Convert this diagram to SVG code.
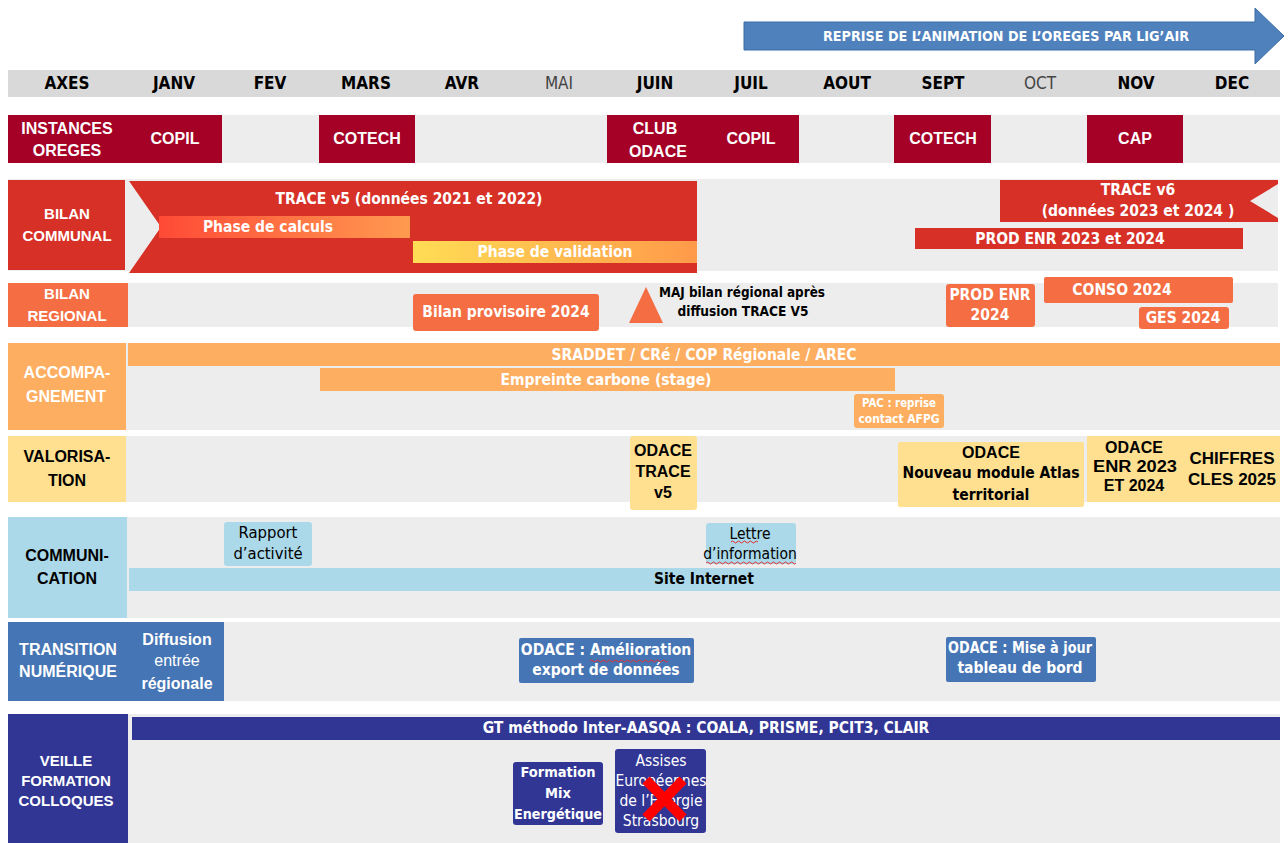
<svg xmlns="http://www.w3.org/2000/svg" width="1288" height="843" viewBox="0 0 1288 843">
<style>
.bg{fill:#ededed}
.h{font-family:"Liberation Sans",Arial,sans-serif;font-weight:bold;font-size:16px;text-anchor:middle;dominant-baseline:central}
.c{font-family:"DejaVu Sans Condensed","Liberation Sans Narrow","Roboto Condensed",Roboto,sans-serif;font-stretch:condensed;font-weight:bold;font-size:15.5px;text-anchor:middle;dominant-baseline:central}
.m{font-size:17px}
.s15{font-size:15px}
.n{font-weight:normal}
.w{fill:#fff}.k{fill:#000}
.red1{fill:#a50026}.red2{fill:#d73027}.or{fill:#f46d43}.lo{fill:#fdae61}.ye{fill:#fee090}.lb{fill:#abd9e9}.bl{fill:#4575b4}.nv{fill:#313695}
.wavy{fill:none;stroke:#e03030;stroke-width:1}
</style>
<defs>
<linearGradient id="gCalc" x1="0" y1="0" x2="1" y2="0"><stop offset="0" stop-color="#ff4a36"/><stop offset="1" stop-color="#ff9a50"/></linearGradient>
<linearGradient id="gVal" x1="0" y1="0" x2="1" y2="0"><stop offset="0" stop-color="#ffdd55"/><stop offset="1" stop-color="#ff9a4a"/></linearGradient>
</defs>

<g id="header-arrow">
<polygon points="744,22 1255,22 1255,8 1284,36 1255,64 1255,50 744,50" fill="#4f81bd" stroke="#3b6ca6" stroke-width="1"/>
<text class="c w" x="1006" y="36" style="font-size:13.5px" textLength="366" lengthAdjust="spacingAndGlyphs">REPRISE DE L’ANIMATION DE L’OREGES PAR LIG’AIR</text>
</g>

<g id="months">
<rect x="8" y="70" width="1272" height="27" fill="#d9d9d9"/>
<text class="c m k" x="67" y="83">AXES</text>
<text class="c m k" x="174" y="83">JANV</text>
<text class="c m k" x="270" y="83">FEV</text>
<text class="c m k" x="366" y="83">MARS</text>
<text class="c m k" x="462" y="83">AVR</text>
<text class="c m n" x="559" y="83" fill="#444">MAI</text>
<text class="c m k" x="655" y="83">JUIN</text>
<text class="c m k" x="751" y="83">JUIL</text>
<text class="c m k" x="847" y="83">AOUT</text>
<text class="c m k" x="943" y="83">SEPT</text>
<text class="c m n" x="1040" y="83" fill="#444">OCT</text>
<text class="c m k" x="1136" y="83">NOV</text>
<text class="c m k" x="1232" y="83">DEC</text>
</g>

<g id="row-instances">
<rect class="bg" x="8" y="115" width="1272" height="48"/>
<rect class="red1" x="8" y="115" width="214" height="48"/>
<text class="h w" x="67" y="128">INSTANCES</text>
<text class="h w" x="67" y="150">OREGES</text>
<text class="h w" x="175" y="138">COPIL</text>
<rect class="red1" x="319" y="115" width="96" height="48"/>
<text class="h w" x="367" y="138">COTECH</text>
<rect class="red1" x="607" y="115" width="192" height="48"/>
<text class="h w" x="655" y="128">CLUB</text>
<text class="h w" x="658" y="151">ODACE</text>
<text class="h w" x="751" y="138">COPIL</text>
<rect class="red1" x="894" y="115" width="97" height="48"/>
<text class="h w" x="943" y="138">COTECH</text>
<rect class="red1" x="1087" y="115" width="96" height="48"/>
<text class="h w" x="1135" y="138">CAP</text>
</g>

<g id="row-bilan-communal">
<rect class="bg" x="8" y="179" width="1270" height="92"/>
<rect class="red2" x="8" y="180" width="117" height="90"/>
<text class="h w s15" x="67" y="213">BILAN</text>
<text class="h w s15" x="67" y="235">COMMUNAL</text>
</g>
<g id="trace-v5">
<polygon class="red2" points="129,181 697,181 697,273 129,273 161,227"/>
<text class="c w" x="409" y="199">TRACE v5 (données 2021 et 2022)</text>
<rect x="159" y="216" width="251" height="22" fill="url(#gCalc)"/>
<text class="c w" x="268" y="227">Phase de calculs</text>
<rect x="413" y="241" width="284" height="22" fill="url(#gVal)"/>
<text class="c w" x="555" y="252">Phase de validation</text>
</g>
<g id="trace-v6">
<polygon class="red2" points="1000,180 1278,180 1278,184 1250,201 1278,218 1278,222 1000,222"/>
<text class="c w" x="1138" y="190">TRACE v6</text>
<text class="c w" x="1138" y="211">(données 2023 et 2024 )</text>
</g>
<g id="prod-enr-2023">
<rect class="red2" x="915" y="228" width="328" height="21"/>
<text class="c w" x="1070" y="239">PROD ENR 2023 et 2024</text>
</g>

<g id="row-bilan-regional">
<rect class="bg" x="8" y="283" width="1270" height="44"/>
<rect class="or" x="8" y="283" width="120" height="44"/>
<text class="h w s15" x="67" y="293">BILAN</text>
<text class="h w s15" x="67" y="315">REGIONAL</text>
</g>
<g id="bilan-provisoire">
<rect class="or" x="413" y="294" width="186" height="37" rx="3"/>
<text class="c w" x="506" y="312">Bilan provisoire 2024</text>
</g>
<g id="maj-bilan">
<polygon class="or" points="629,323 646,287 663,323"/>
<text class="c k" x="742" y="292" style="font-size:14.5px" textLength="166" lengthAdjust="spacingAndGlyphs">MAJ bilan régional après</text>
<text class="c k" x="743" y="311" style="font-size:14.5px" textLength="131" lengthAdjust="spacingAndGlyphs">diffusion TRACE V5</text>
</g>
<g id="prod-enr-2024">
<rect class="or" x="946" y="284" width="89" height="43" rx="3"/>
<text class="c w" x="990" y="295">PROD ENR</text>
<text class="c w" x="990" y="315">2024</text>
</g>
<g id="conso-2024">
<rect class="or" x="1044" y="277" width="189" height="26" rx="2"/>
<text class="c w" x="1122" y="290">CONSO 2024</text>
</g>
<g id="ges-2024">
<rect class="or" x="1139" y="307" width="90" height="22" rx="3"/>
<text class="c w" x="1183" y="318">GES 2024</text>
</g>

<g id="row-accompagnement">
<rect class="bg" x="8" y="343" width="1272" height="87"/>
<rect class="lo" x="8" y="343" width="118" height="87"/>
<text class="h w" x="67" y="372">ACCOMPA-</text>
<text class="h w" x="66" y="396">GNEMENT</text>
</g>
<g id="sraddet">
<rect class="lo" x="128" y="343" width="1152" height="23"/>
<text class="c w" x="704" y="355">SRADDET / CRé / COP Régionale / AREC</text>
</g>
<g id="empreinte">
<rect class="lo" x="320" y="368" width="575" height="23"/>
<text class="c w" x="606" y="380">Empreinte carbone (stage)</text>
</g>
<g id="pac">
<rect class="lo" x="854" y="394" width="90" height="34" rx="3"/>
<text class="c w" x="899" y="403" style="font-size:11.5px" textLength="74" lengthAdjust="spacingAndGlyphs">PAC : reprise</text>
<text class="c w" x="899" y="419" style="font-size:11.5px" textLength="81" lengthAdjust="spacingAndGlyphs">contact AFPG</text>
</g>

<g id="row-valorisation">
<rect class="bg" x="8" y="436" width="1272" height="66"/>
<rect class="ye" x="8" y="436" width="118" height="66"/>
<text class="h k" x="67" y="456">VALORISA-</text>
<text class="h k" x="67" y="480">TION</text>
</g>
<g id="odace-trace-v5">
<rect class="ye" x="630" y="436" width="67" height="74" rx="3"/>
<text class="h k" x="663" y="450">ODACE</text>
<text class="h k" x="663" y="471">TRACE</text>
<text class="h k" x="663" y="492">v5</text>
</g>
<g id="odace-atlas">
<rect class="ye" x="898" y="442" width="186" height="65" rx="2"/>
<text class="h k" x="991" y="452">ODACE</text>
<text class="c k" x="991" y="473">Nouveau module Atlas</text>
<text class="c k" x="991" y="495">territorial</text>
</g>
<g id="odace-enr-chiffres">
<rect class="ye" x="1087" y="436" width="193" height="66"/>
<text class="h k" x="1134" y="447">ODACE</text>
<text class="h k" x="1135" y="466" textLength="84" lengthAdjust="spacingAndGlyphs">ENR 2023</text>
<text class="h k" x="1134" y="485">ET 2024</text>
<text class="h k" x="1232" y="458" textLength="85" lengthAdjust="spacingAndGlyphs">CHIFFRES</text>
<text class="h k" x="1232" y="479" textLength="88" lengthAdjust="spacingAndGlyphs">CLES 2025</text>
</g>

<g id="row-communication">
<rect class="bg" x="8" y="517" width="1272" height="101"/>
<rect class="lb" x="8" y="517" width="119" height="101"/>
<text class="h k" x="67" y="555">COMMUNI-</text>
<text class="h k" x="67" y="578">CATION</text>
</g>
<g id="rapport">
<rect class="lb" x="224" y="522" width="88" height="44" rx="3"/>
<text class="c k n" x="268" y="532" style="font-size:16.5px">Rapport</text>
<text class="c k n" x="268" y="553" style="font-size:16.5px">d’activité</text>
</g>
<g id="lettre">
<rect class="lb" x="706" y="523" width="90" height="41" rx="3"/>
<text class="c k n" x="750" y="534">Lettre</text>
<text class="c k n" x="750" y="554">d’information</text>
<path class="wavy" d="M731,542 q1.5,-2 3,0 t3,0 t3,0 t3,0 t3,0 t3,0 t3,0 t3,0 t3,0"/>
<path class="wavy" d="M706,563 q1.5,-2 3,0 t3,0 t3,0 t3,0 t3,0 t3,0 t3,0 t3,0 t3,0 t3,0 t3,0 t3,0 t3,0 t3,0 t3,0 t3,0 t3,0 t3,0 t3,0 t3,0 t3,0 t3,0 t3,0 t3,0 t3,0 t3,0 t3,0 t3,0 t3,0 t3,0"/>
</g>
<g id="site-internet">
<rect class="lb" x="129" y="568" width="1151" height="23"/>
<text class="c k" x="704" y="579">Site Internet</text>
</g>

<g id="row-transition">
<rect class="bg" x="8" y="622" width="1272" height="79"/>
<rect class="bl" x="8" y="622" width="216" height="79"/>
<text class="h w" x="68" y="649">TRANSITION</text>
<text class="h w" x="68" y="671">NUMÉRIQUE</text>
<text class="h w" x="177" y="639">Diffusion</text>
<text class="h w n" x="177" y="660">entrée</text>
<text class="h w" x="177" y="683">régionale</text>
</g>
<g id="odace-amelioration">
<rect class="bl" x="519" y="638" width="175" height="45" rx="2"/>
<text class="c w" x="606" y="650">ODACE : Amélioration</text>
<text class="c w" x="606" y="670">export de données</text>
<path class="wavy" d="M590,661 q1.5,-2 3,0 t3,0 t3,0 t3,0 t3,0 t3,0 t3,0 t3,0 t3,0 t3,0 t3,0 t3,0 t3,0 t3,0 t3,0 t3,0 t3,0 t3,0 t3,0 t3,0 t3,0 t3,0 t3,0 t3,0 t3,0 t3,0"/>
</g>
<g id="odace-mise-a-jour">
<rect class="bl" x="946" y="637" width="150" height="45" rx="2"/>
<text class="c w" x="1020" y="648" textLength="144" lengthAdjust="spacingAndGlyphs">ODACE : Mise à jour</text>
<text class="c w" x="1020" y="668">tableau de bord</text>
</g>

<g id="row-veille">
<rect class="bg" x="8" y="714" width="1272" height="129"/>
<rect class="nv" x="8" y="714" width="120" height="129"/>
<text class="h w s15" x="66" y="760">VEILLE</text>
<text class="h w s15" x="66" y="780">FORMATION</text>
<text class="h w s15" x="66" y="800">COLLOQUES</text>
</g>
<g id="gt-methodo">
<rect class="nv" x="132" y="717" width="1148" height="23"/>
<text class="c w" x="706" y="728">GT méthodo Inter-AASQA : COALA, PRISME, PCIT3, CLAIR</text>
</g>
<g id="formation-mix">
<rect class="nv" x="513" y="762" width="90" height="63" rx="3"/>
<text class="c w" x="558" y="772" style="font-size:14.5px">Formation</text>
<text class="c w" x="558" y="793" style="font-size:14.5px">Mix</text>
<text class="c w" x="558" y="814" style="font-size:14.5px" textLength="88" lengthAdjust="spacingAndGlyphs">Energétique</text>
</g>
<g id="assises">
<rect class="nv" x="615" y="749" width="91" height="84" rx="3"/>
<text class="c w n" x="661" y="761">Assises</text>
<text class="c w n" x="661" y="781">Européennes</text>
<text class="c w n" x="661" y="801">de l’Energie</text>
<text class="c w n" x="661" y="821">Strasbourg</text>
<path d="M646,780 L683,818 M683,780 L646,818" stroke="#ff0000" stroke-width="10" fill="none"/>
</g>
</svg>
